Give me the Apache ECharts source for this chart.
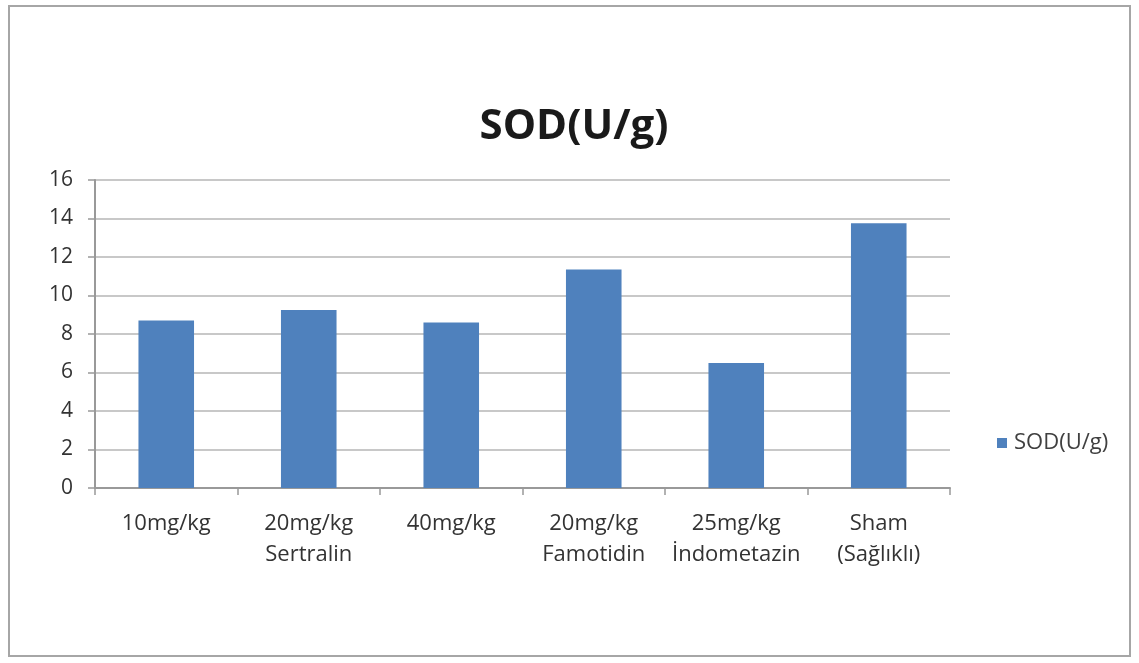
<!DOCTYPE html>
<html>
<head>
<meta charset="utf-8">
<script src="https://cdn.jsdelivr.net/npm/echarts@6/dist/echarts.min.js"></script>
<style>
html,body{margin:0;padding:0;background:#fff;}
#c{width:1139px;height:663px;}
</style>
</head>
<body>
<div id="c"></div>
<script>
const titleText = "SOD(U/g)";
const seriesName = "SOD(U/g)";
const categories = ["10mg/kg", "20mg/kg\nSertralin", "40mg/kg", "20mg/kg\nFamotidin", "25mg/kg\nİndometazin", "Sham\n(Sağlıklı)"];
const values = [8.7, 9.25, 8.6, 11.35, 6.5, 13.75];
const yMin = 0, yMax = 16, yStep = 2;

const font = "'Open Sans', 'Noto Sans', sans-serif";
const chart = echarts.init(document.getElementById('c'), null, {renderer: 'canvas'});
chart.setOption({
  backgroundColor: '#ffffff',
  animation: false,
  graphic: [{
    type: 'rect',
    shape: {x: 9, y: 6, width: 1121, height: 650},
    style: {fill: 'none', stroke: '#a6a6a6', lineWidth: 2},
    silent: true
  }],
  title: {
    text: titleText,
    left: 569, top: 101, textAlign: 'center',
    textStyle: {fontFamily: font, fontSize: 42, fontWeight: 'bold', color: '#1a1a1a'}
  },
  legend: {
    data: [seriesName],
    left: 992, top: 427,
    itemWidth: 10, itemHeight: 10, itemGap: 4,
    icon: 'rect',
    textStyle: {fontFamily: font, fontSize: 22, color: '#404040', padding: [0, 0, 0, 2]}
  },
  grid: {left: 95, right: 189, top: 180, bottom: 175, containLabel: false},
  xAxis: {
    type: 'category',
    data: categories,
    axisLine: {lineStyle: {color: '#999', width: 2}},
    axisTick: {show: true, alignWithLabel: false, length: 7, lineStyle: {color: '#999', width: 1.5}},
    axisLabel: {fontFamily: font, fontSize: 22, color: '#333', margin: 20, lineHeight: 31, interval: 0}
  },
  yAxis: {
    type: 'value',
    min: yMin, max: yMax, interval: yStep,
    axisLine: {show: true, lineStyle: {color: '#999', width: 2}},
    axisTick: {show: true, length: 7, lineStyle: {color: '#999', width: 1.5}},
    axisLabel: {fontFamily: font, fontSize: 21, color: '#333', margin: 22},
    splitLine: {lineStyle: {color: '#c8c8c8', width: 2}}
  },
  series: [{
    name: seriesName,
    type: 'bar',
    data: values,
    barWidth: '39%',
    itemStyle: {color: '#4f81bd'}
  }]
});
</script>
</body>
</html>
